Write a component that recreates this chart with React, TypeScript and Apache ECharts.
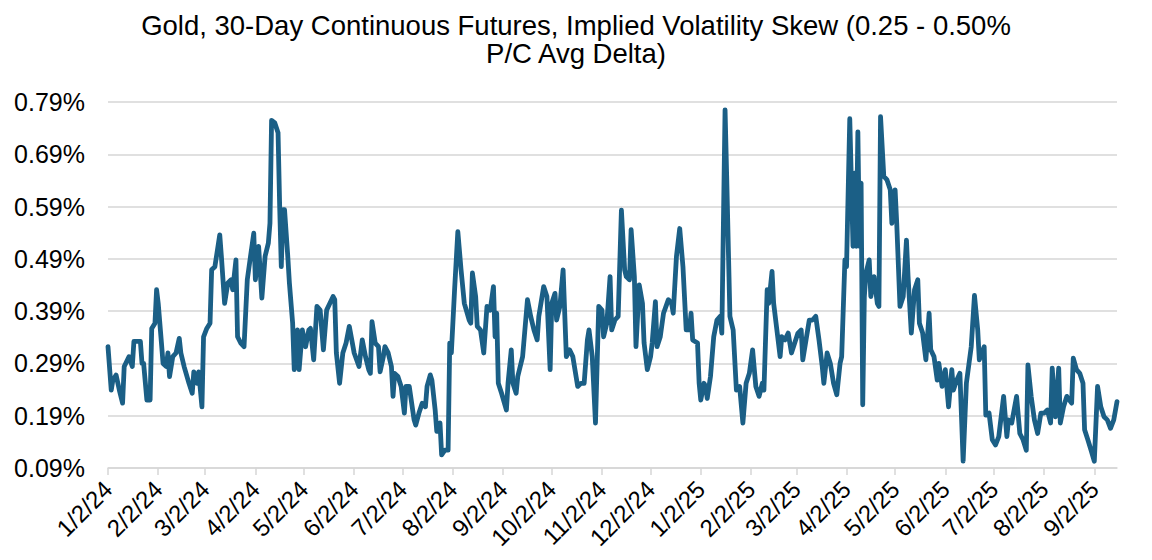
import React, { useEffect, useRef } from "react";
import * as echarts from "echarts";

const TITLE = "Gold, 30-Day Continuous Futures, Implied Volatility Skew (0.25 - 0.50%\nP/C Avg Delta)";
const START_DATE = "1/2/24";
const X_LABELS = ["1/2/24","2/2/24","3/2/24","4/2/24","5/2/24","6/2/24","7/2/24","8/2/24","9/2/24","10/2/24","11/2/24","12/2/24","1/2/25","2/2/25","3/2/25","4/2/25","5/2/25","6/2/25","7/2/25","8/2/25","9/2/25"];
const END_DATE = "9/16/25";
const Y_TICKS = [0.09, 0.19, 0.29, 0.39, 0.49, 0.59, 0.69, 0.79];

// days since 1/2/24
const DAYS = [
  0,2,3,5,7,9,10,13,15,16,20,21,22,24,26,27,29,30,31,33,34,36,37,38,40,42,44,45,47,50,52,53,55,56,58,59,61,63,64,66,69,70,72,74,76,77,79,80,82,84,86,88,90,91,93,95,97,99,100,101,103,105,106,107,108,109,111,112,114,115,117,118,120,122,124,125,127,129,131,133,135,137,139,140,141,143,
  145,147,149,152,155,157,159,161,162,163,165,167,168,170,171,173,175,176,177,179,181,183,184,186,189,190,192,194,196,197,199,200,202,203,205,206,208,210,211,212,214,216,218,220,223,224,225,227,228,230,232,234,236,238,239,240,241,243,246,247,249,250,252,253,256,259,261,263,265,266,269,271,273,274,276,277,279,281,283,285,287,290,292,
  294,296,297,299,301,303,305,306,308,310,311,313,315,317,319,320,322,323,325,326,328,330,331,333,335,336,338,339,341,343,346,348,349,351,353,355,357,359,360,361,364,365,366,368,369,370,372,374,376,378,379,381,382,384,386,388,390,392,394,396,398,400,402,404,405,407,408,410,411,413,415,416,418,420,422,424,426,428,429,431,433,435,437,439,441,442,444,446,448,450,452,
  453,455,456,458,460,461,462,463,464,465,466,467,468,470,471,473,475,476,477,479,481,483,484,486,487,489,491,493,494,496,498,500,501,503,505,507,508,510,512,513,515,517,519,521,522,524,526,528,530,533,535,537,538,541,542,544,546,548,550,553,555,556,558,561,563,565,567,568,570,572,574,576,578,580,582,583,585,587,588,590,592,595,596,598,600,602,603,605,607,609,611,613,615,617,619,621,623
];

// skew, %
const SKEW = [
  0.322,0.239,0.258,0.268,0.239,0.214,0.284,0.303,0.284,0.332,0.332,0.290,0.290,0.220,0.220,0.357,0.367,0.431,0.405,0.329,0.290,0.284,0.310,0.265,0.303,0.310,0.338,0.310,0.284,0.252,0.233,0.274,0.252,0.274,0.207,0.341,0.357,0.367,0.469,0.475,0.536,0.495,0.405,0.444,0.450,0.431,0.488,0.341,0.329,0.322,0.450,0.495,0.539,0.450,0.514,0.415,0.495,0.520,0.558,0.755,0.750,0.731,0.590,0.475,0.584,0.584,0.495,0.444,0.367,0.278,0.354,0.278,0.354,0.322,0.354,0.357,0.297,0.399,0.392,0.316,0.392,0.405,0.418,0.412,0.310,0.252,
  0.310,0.329,0.361,0.310,0.284,0.335,0.303,0.278,0.271,0.370,0.329,0.322,0.274,0.303,0.322,0.310,0.284,0.227,0.271,0.265,0.246,0.195,0.246,0.246,0.182,0.172,0.195,0.214,0.207,0.246,0.268,0.258,0.201,0.160,0.176,0.115,0.124,0.124,0.329,0.310,0.431,0.542,0.469,0.405,0.373,0.367,0.463,0.418,0.361,0.354,0.310,0.399,0.392,0.437,0.341,0.386,0.252,0.233,0.201,0.252,0.316,0.252,0.233,0.265,0.303,0.412,0.380,0.354,0.335,0.380,0.437,0.418,0.278,0.405,0.424,0.373,0.399,0.469,0.303,0.316,0.303,0.246,0.252,
  0.252,0.335,0.354,0.303,0.176,0.399,0.392,0.341,0.367,0.456,0.354,0.373,0.380,0.583,0.469,0.456,0.450,0.546,0.456,0.322,0.440,0.405,0.329,0.278,0.303,0.329,0.408,0.322,0.341,0.386,0.412,0.405,0.386,0.495,0.548,0.475,0.354,0.354,0.386,0.335,0.329,0.252,0.220,0.252,0.246,0.223,0.265,0.341,0.373,0.380,0.348,0.775,0.648,0.380,0.354,0.239,0.246,0.176,0.252,0.271,0.316,0.246,0.227,0.252,0.239,0.431,0.405,0.466,0.405,0.354,0.303,0.341,0.335,0.348,0.310,0.329,0.348,0.354,0.297,0.335,0.373,0.373,0.380,0.335,0.284,0.252,0.310,0.290,0.252,0.230,0.290,
  0.303,0.488,0.475,0.758,0.514,0.654,0.514,0.733,0.514,0.635,0.211,0.418,0.463,0.488,0.418,0.456,0.405,0.399,0.762,0.648,0.641,0.622,0.558,0.622,0.558,0.399,0.418,0.526,0.456,0.348,0.431,0.450,0.367,0.348,0.297,0.386,0.316,0.303,0.258,0.290,0.246,0.278,0.207,0.278,0.239,0.258,0.271,0.103,0.252,0.322,0.420,0.354,0.297,0.322,0.191,0.195,0.144,0.134,0.150,0.227,0.150,0.182,0.176,0.227,0.156,0.144,0.124,0.287,0.227,0.182,0.156,0.195,0.195,0.201,0.176,0.281,0.188,0.281,0.176,0.207,0.227,0.214,0.300,0.278,0.271,0.252,0.163,0.144,0.124,0.103,0.246,0.207,0.188,0.182,0.166,0.182,0.217
];

const FONT = "'Liberation Sans', Arial, Helvetica, sans-serif";
const LINE_COLOR = "#1b5f86";
const GRID_COLOR = "#d6d6d6";

function parseDate(s: string): number {
  const [m, d, y] = s.split("/").map(Number);
  return Date.UTC(2000 + y, m - 1, d);
}
const DAY_MS = 86400000;
const startMs = parseDate(START_DATE);
const toDay = (s: string) => Math.round((parseDate(s) - startMs) / DAY_MS);
const TICK_DAYS = X_LABELS.map(toDay);
const LABEL_BY_DAY: Record<number, string> = {};
TICK_DAYS.forEach((d, i) => (LABEL_BY_DAY[d] = X_LABELS[i]));

export default function App() {
  const ref = useRef<HTMLDivElement>(null);
  useEffect(() => {
    if (!ref.current) return;
    const chart = echarts.init(ref.current, undefined, { renderer: "svg" });
    chart.setOption({
      animation: false,
      backgroundColor: "#ffffff",
      title: {
        text: TITLE,
        left: "center",
        top: 6,
        textStyle: { fontFamily: FONT, fontSize: 27.5, fontWeight: "normal", color: "#000", lineHeight: 28 },
      },
      grid: { left: 108, right: 35, top: 102, bottom: 92 },
      xAxis: {
        type: "value",
        min: 0,
        max: toDay(END_DATE),
        splitLine: { show: false },
        axisLine: { show: true, lineStyle: { color: GRID_COLOR, width: 1.5 } },
        axisTick: { show: true, length: 7, customValues: TICK_DAYS, lineStyle: { color: GRID_COLOR, width: 1.5 } },
        axisLabel: {
          customValues: TICK_DAYS,
          rotate: 45,
          margin: 17,
          fontFamily: FONT,
          fontSize: 24,
          color: "#000",
          formatter: (v: number) => LABEL_BY_DAY[Math.round(v)] ?? "",
        },
      },
      yAxis: {
        type: "value",
        min: Y_TICKS[0],
        max: Y_TICKS[Y_TICKS.length - 1],
        axisLine: { show: false },
        axisTick: { show: false, customValues: Y_TICKS },
        splitLine: { show: true, lineStyle: { color: GRID_COLOR, width: 1.5 } },
        axisLabel: {
          customValues: Y_TICKS,
          margin: 23,
          fontFamily: FONT,
          fontSize: 25,
          color: "#000",
          formatter: (v: number) => v.toFixed(2) + "%",
        },
      },
      series: [
        {
          type: "line",
          data: DAYS.map((d, i) => [d, SKEW[i]]),
          showSymbol: false,
          lineStyle: { color: LINE_COLOR, width: 4.8, cap: "round", join: "round" },
          itemStyle: { color: LINE_COLOR },
        },
      ],
    });
    return () => chart.dispose();
  }, []);
  return (
    <div
      ref={ref}
      style={{ position: "fixed", left: 0, top: 0, width: 1152, height: 560, background: "#fff" }}
    />
  );
}
